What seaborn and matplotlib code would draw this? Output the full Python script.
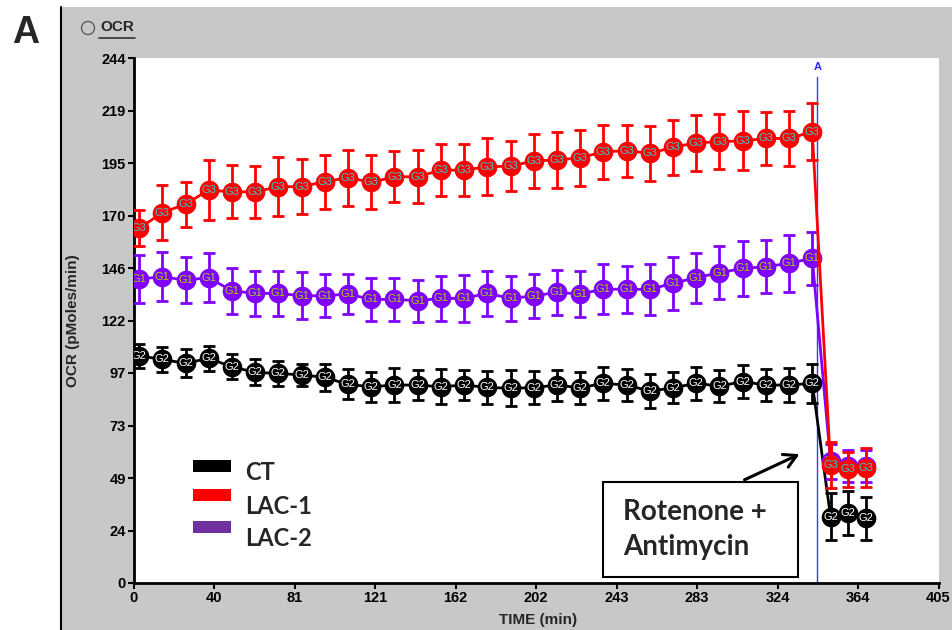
import numpy as np
import pandas as pd
import seaborn as sns
import matplotlib.pyplot as plt
from matplotlib.patches import Rectangle, Ellipse, FancyArrowPatch
from matplotlib.lines import Line2D

# measurement times (min), 30 basal + 3 after Rotenone/Antimycin
time_min = [2.8, 14.5, 26.2, 37.8, 49.5, 61.2, 72.9, 84.6, 96.2, 107.9,
            119.6, 131.3, 143.0, 154.6, 166.3, 178.0, 189.7, 201.4, 213.0, 224.7,
            236.4, 248.1, 259.8, 271.4, 283.1, 294.8, 306.5, 318.2, 329.8, 341.5,
            350.7, 359.4, 368.3]

# CT (G2)
ct_ocr = [105.6, 103.9, 102.1, 104.4, 100.5, 97.9, 97.4, 96.7, 95.6, 92.3,
          91.2, 92.0, 92.0, 91.2, 92.0, 90.9, 90.5, 90.8, 92.0, 90.7,
          92.8, 92.0, 89.2, 90.7, 92.8, 91.5, 93.6, 92.0, 92.0, 92.8,
          30.8, 32.7, 30.0]
ct_err = [5.5, 5.8, 6.5, 5.9, 5.7, 6.0, 5.9, 5.0, 6.4, 7.0,
          6.9, 7.9, 6.8, 8.1, 7.0, 7.5, 8.4, 7.7, 7.2, 7.5,
          7.8, 7.3, 8.0, 7.2, 7.8, 7.4, 7.6, 7.3, 7.7, 9.1,
          10.8, 10.2, 10.2]

# LAC-1 (G3)
lac1_ocr = [164.8, 172.1, 176.1, 182.6, 181.8, 181.8, 184.2, 184.2, 186.5, 188.4,
            186.2, 188.8, 188.8, 191.9, 191.9, 193.5, 193.7, 196.2, 196.6, 197.6,
            200.4, 200.9, 199.7, 202.5, 204.6, 205.1, 205.5, 206.6, 206.6, 209.7,
            54.8, 52.8, 53.6]
lac1_err = [8.4, 12.9, 10.5, 14.1, 12.3, 12.2, 13.6, 12.9, 12.5, 13.0,
            12.5, 11.8, 12.4, 12.1, 12.2, 13.2, 11.7, 12.4, 13.2, 13.0,
            12.6, 12.1, 12.9, 12.9, 12.9, 12.7, 13.7, 12.4, 12.7, 13.3,
            10.5, 8.1, 9.0]

# LAC-2 (G1)
lac2_ocr = [141.3, 142.3, 140.8, 141.9, 135.8, 134.6, 134.6, 133.5, 133.5, 134.3,
            131.8, 131.8, 131.2, 132.3, 132.3, 134.6, 132.3, 133.4, 135.1, 134.3,
            136.6, 136.5, 136.5, 139.3, 141.9, 144.2, 146.2, 147.0, 148.6, 150.9,
            56.5, 54.5, 54.5]
lac2_err = [11.1, 11.4, 10.8, 11.3, 10.7, 10.3, 10.6, 10.9, 10.1, 9.3,
            10.1, 10.1, 9.8, 10.5, 10.8, 10.6, 10.5, 10.3, 10.5, 10.8,
            11.6, 10.9, 11.8, 12.4, 11.6, 12.2, 12.9, 12.2, 13.2, 12.4,
            8.0, 7.5, 7.5]

x_ticklabels = ["0", "40", "81", "121", "162", "202", "243", "283", "324", "364", "405"]
y_ticklabels = ["0", "24", "49", "73", "97", "122", "146", "170", "195", "219", "244"]

legend_labels = ["CT", "LAC-1", "LAC-2"]
legend_colors = ["black", "#FF0000", "#7030A0"]

injection_time = 344

W, H = 952, 630

df = pd.concat([
    pd.DataFrame({"time": time_min, "ocr": ct_ocr, "err": ct_err, "group": "CT"}),
    pd.DataFrame({"time": time_min, "ocr": lac2_ocr, "err": lac2_err, "group": "LAC-2"}),
    pd.DataFrame({"time": time_min, "ocr": lac1_ocr, "err": lac1_err, "group": "LAC-1"}),
])

# drawing order: CT at bottom, LAC-1 on top
styles = {
    "CT":    {"color": "black",   "tag": "G2", "tag_color": "white"},
    "LAC-2": {"color": "#7F00FF", "tag": "G1", "tag_color": "#A6D200"},
    "LAC-1": {"color": "#FF0000", "tag": "G3", "tag_color": "#33CCCC"},
}

sns.set_style("white")
plt.rcParams["font.family"] = ["Liberation Sans Narrow", "Liberation Sans", "DejaVu Sans"]

fig = plt.figure(figsize=(W / 100, H / 100), dpi=100)
fig.patch.set_facecolor("white")

# grey instrument panel
fig.patches.append(Rectangle((62 / W, 0), 1 - 62 / W, 623 / H, transform=fig.transFigure,
                             facecolor="#C8C8C8", edgecolor="none", zorder=-10))
fig.add_artist(Line2D([61 / W, 61 / W], [0, 623 / H], color="black", lw=1.5))

ax = fig.add_axes([133.5 / W, 47 / H, 805 / W, 525 / H])
ax.set_facecolor("white")

for i, (grp, st) in enumerate(styles.items()):
    sub = df[df["group"] == grp]
    z = 3 + i
    sns.lineplot(data=sub, x="time", y="ocr", color=st["color"], lw=2, sort=False,
                 estimator=None, ax=ax, zorder=z, legend=False)
    ax.errorbar(sub["time"], sub["ocr"], yerr=sub["err"], fmt="none", ecolor=st["color"],
                elinewidth=2, capsize=4.5, capthick=2, zorder=z + 0.1)
    sns.scatterplot(data=sub, x="time", y="ocr", color=st["color"], s=200, linewidth=0,
                    ax=ax, zorder=z + 0.2, legend=False)
    for t, v in zip(sub["time"], sub["ocr"]):
        ax.text(t, v, st["tag"], color=st["tag_color"], fontsize=8, ha="center",
                va="center", zorder=z + 0.3, clip_on=True,
                family=["Liberation Sans Narrow", "Liberation Sans"])

# injection marker
ax.axvline(injection_time, ymax=235 / 244, color="#3A3AFF", lw=1, zorder=2)
ax.text(injection_time, 240, "A", color="#2A2AFF", fontsize=8, fontweight="bold",
        ha="center", va="center", family=["Liberation Sans"])

ax.set_xlim(0, 405)
ax.set_ylim(0, 244)
ax.set_xticks(np.linspace(0, 405, 11))
ax.set_xticklabels(x_ticklabels)
ax.set_yticks(np.linspace(0, 244, 11))
ax.set_yticklabels(y_ticklabels)
for lab in ax.get_xticklabels() + ax.get_yticklabels():
    lab.set_fontweight("bold")
ax.tick_params(axis="both", direction="out", length=4, width=1.5, colors="black",
               labelsize=10.5, pad=1.5, left=True, bottom=True)

for s in ["top", "right"]:
    ax.spines[s].set_visible(False)
for s in ["left", "bottom"]:
    ax.spines[s].set_color("black")
    ax.spines[s].set_linewidth(2)

ax.set_xlabel("TIME (min)", fontsize=11, fontweight="bold")
ax.set_ylabel("OCR (pMoles/min)", fontsize=11, fontweight="bold",
              family=["Liberation Sans"])
ax.xaxis.set_label_coords((538 - 133.5) / 805, -(613 - 583) / 525)
ax.yaxis.set_label_coords((80 - 133.5) / 805, 0.5)

# header "OCR"
fig.add_artist(Ellipse((88 / W, 1 - 28 / H), 13 / W, 13 / H, transform=fig.transFigure,
                       facecolor="none", edgecolor="#555555", lw=0.9))
fig.text(100 / W, 1 - 27 / H, "OCR", fontsize=11, fontweight="bold", ha="left",
         va="center", family=["Liberation Sans"])
fig.add_artist(Line2D([99 / W, 135 / W], [1 - 38 / H, 1 - 38 / H], color="#333333", lw=1.2))

# panel letter
fig.text(26 / W, 1 - 33 / H, "A", fontsize=27, fontweight="bold", ha="center",
         va="center", family=["Liberation Sans"])

# legend drawn as coloured bars + text
patch_y = [466, 494.5, 527]
text_y = [473, 506, 539]
for lab, col, py, ty in zip(legend_labels, legend_colors, patch_y, text_y):
    fig.patches.append(Rectangle((193 / W, 1 - (py + 6) / H), 38 / W, 12 / H,
                                 transform=fig.transFigure, facecolor=col,
                                 edgecolor="none", zorder=10))
    fig.text(245 / W, 1 - ty / H, lab, fontsize=17, fontweight="bold", ha="left",
             va="center", family=["Lato", "DejaVu Sans"], zorder=10)

# Rotenone + Antimycin box and arrow
fig.patches.append(Rectangle((603 / W, 1 - 577 / H), 195 / W, 95 / H,
                             transform=fig.transFigure, facecolor="white",
                             edgecolor="black", lw=1.5, zorder=10))
fig.text(623 / W, 1 - 512 / H, "Rotenone +", fontsize=20, fontweight="bold",
         ha="left", va="center", family=["Lato", "DejaVu Sans"], zorder=11)
fig.text(623 / W, 1 - 547 / H, "Antimycin", fontsize=20, fontweight="bold",
         ha="left", va="center", family=["Lato", "DejaVu Sans"], zorder=11)
fig.add_artist(FancyArrowPatch(
    (742 / W, 1 - 481 / H), (802 / W, 1 - 453 / H), transform=fig.transFigure,
    arrowstyle="->,head_length=9,head_width=5", color="black", lw=2.2,
    mutation_scale=1, zorder=11))

fig.savefig("out.png", dpi=100, facecolor=fig.get_facecolor())
